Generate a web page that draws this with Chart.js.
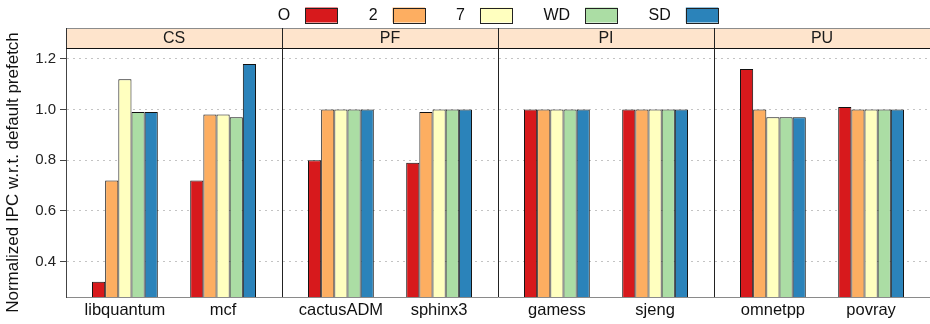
<!DOCTYPE html>
<html>
<head>
<meta charset="utf-8">
<script src="https://cdn.jsdelivr.net/npm/chart.js@4/dist/chart.umd.min.js"></script>
<style>
  html, body { margin: 0; padding: 0; background: #fff; }
  #wrap { width: 930px; height: 324px; }
</style>
</head>
<body>
<div id="wrap"><canvas id="c" width="930" height="324"></canvas></div>
<script>
// Benchmark groups and the benchmarks in each
const groups = ['CS', 'PF', 'PI', 'PU'];
const benchmarks = ['libquantum', 'mcf', 'cactusADM', 'sphinx3', 'gamess', 'sjeng', 'omnetpp', 'povray'];
const benchmarkGroup = [0, 0, 1, 1, 2, 2, 3, 3];

// Prefetcher configurations
const seriesNames = ['O', '2', '7', 'WD', 'SD'];
const seriesColors = ['#d7191c', '#fdae61', '#ffffbf', '#abdda4', '#2b83ba'];

// Normalized IPC per configuration
const valuesO  = [0.32, 0.72, 0.80, 0.79, 1.00, 1.00, 1.16, 1.01];
const values2  = [0.72, 0.98, 1.00, 0.99, 1.00, 1.00, 1.00, 1.00];
const values7  = [1.12, 0.98, 1.00, 1.00, 1.00, 1.00, 0.97, 1.00];
const valuesWD = [0.99, 0.97, 1.00, 1.00, 1.00, 1.00, 0.97, 1.00];
const valuesSD = [0.99, 1.18, 1.00, 1.00, 1.00, 1.00, 0.97, 1.00];

const yTicks = [0.4, 0.6, 0.8, 1.0, 1.2];

const FONT = "'Liberation Sans', Arial, Helvetica, sans-serif";

// Each facet spans 2.2 units: 0.6 padding, two slots 1 apart, 0.6 padding
const FACET_SPAN = 2.2;
const FACET_PAD = 0.6;
const groupCounters = {};
const xPositions = benchmarks.map((b, i) => {
  const g = benchmarkGroup[i];
  const k = groupCounters[g] || 0;
  groupCounters[g] = k + 1;
  return g * FACET_SPAN + FACET_PAD + k;
});

const seriesValues = [valuesO, values2, values7, valuesWD, valuesSD];
const datasets = seriesNames.map((name, s) => ({
  label: name,
  data: seriesValues[s].map((v, i) => ({ x: xPositions[i], y: v })),
  backgroundColor: seriesColors[s],
  borderColor: '#111',
  borderWidth: 1,
  borderSkipped: 'bottom',
  categoryPercentage: 0.67,
  barPercentage: 1.0
}));

// Draws facet strips, facet borders and the legend row
const facetPlugin = {
  id: 'facets',
  afterDraw(chart) {
    const ctx = chart.ctx;
    const area = chart.chartArea;
    const xs = chart.scales.x;
    const stripTop = 28, stripBottom = area.top;

    ctx.save();
    // strips
    groups.forEach((g, i) => {
      const x0 = xs.getPixelForValue(i * FACET_SPAN);
      const x1 = xs.getPixelForValue((i + 1) * FACET_SPAN);
      ctx.fillStyle = '#fee4cc';
      ctx.fillRect(x0, stripTop, x1 - x0, stripBottom - stripTop);
      ctx.fillStyle = '#1a1a1a';
      ctx.font = '16px ' + FONT;
      ctx.textAlign = 'center';
      ctx.textBaseline = 'middle';
      ctx.fillText(g, (x0 + x1) / 2, (stripTop + stripBottom) / 2 + 1);
    });
    // strip top edge
    ctx.strokeStyle = '#8c8c8c';
    ctx.lineWidth = 1;
    ctx.beginPath();
    ctx.moveTo(area.left, stripTop + 0.5);
    ctx.lineTo(area.right, stripTop + 0.5);
    ctx.stroke();
    // strip bottom edge
    ctx.strokeStyle = '#111';
    ctx.beginPath();
    ctx.moveTo(area.left, stripBottom + 0.5);
    ctx.lineTo(area.right, stripBottom + 0.5);
    ctx.stroke();
    // facet separators
    for (let i = 0; i < groups.length; i++) {
      const x = Math.round(xs.getPixelForValue(i * FACET_SPAN)) + 0.5;
      ctx.strokeStyle = i === 0 ? '#333' : '#222';
      ctx.beginPath();
      ctx.moveTo(x, stripTop);
      ctx.lineTo(x, i === 0 ? stripBottom : area.bottom);
      ctx.stroke();
    }

    // legend: label followed by its colour key
    ctx.font = '16px ' + FONT;
    ctx.textAlign = 'left';
    ctx.textBaseline = 'middle';
    const boxW = 32.5, boxH = 15, textGap = 15, itemGap = 31;
    const widths = seriesNames.map(n => ctx.measureText(n).width);
    const total = widths.reduce((a, w) => a + w + textGap + boxW, 0) + itemGap * (seriesNames.length - 1);
    let x = (area.left + area.right) / 2 - total / 2;
    const cy = 15;
    seriesNames.forEach((n, i) => {
      ctx.fillStyle = '#111';
      ctx.fillText(n, x, cy + 0.5);
      x += widths[i] + textGap;
      ctx.fillStyle = seriesColors[i];
      ctx.fillRect(x, cy - boxH / 2, boxW, boxH);
      ctx.strokeStyle = '#222';
      ctx.lineWidth = 1;
      ctx.strokeRect(Math.round(x) + 0.5, Math.round(cy - boxH / 2) + 0.5, Math.round(boxW) - 1, boxH);
      x += boxW + itemGap;
    });
    ctx.restore();
  }
};

new Chart(document.getElementById('c'), {
  type: 'bar',
  data: { datasets },
  plugins: [facetPlugin],
  options: {
    responsive: false,
    animation: false,
    devicePixelRatio: 1,
    layout: { padding: { top: 48, right: 0, bottom: 0, left: 0 } },
    plugins: { legend: { display: false }, tooltip: { enabled: false } },
    scales: {
      x: {
        type: 'linear',
        offset: false,
        min: 0,
        max: FACET_SPAN * groups.length,
        afterBuildTicks(scale) { scale.ticks = xPositions.map(v => ({ value: v })); },
        afterFit(scale) { scale.height = 27; },
        ticks: {
          autoSkip: false,
          maxRotation: 0,
          padding: 4,
          color: '#111',
          font: { family: FONT, size: 16.5 },
          callback: (v, i) => benchmarks[i]
        },
        grid: { display: false, drawTicks: false, tickLength: 0 },
        border: { display: true, color: '#8a8a8a', width: 1 }
      },
      y: {
        min: 0.26,
        max: 1.243,
        afterBuildTicks(scale) { scale.ticks = yTicks.map(v => ({ value: v })); },
        afterFit(scale) { scale.width = 66; },
        ticks: {
          padding: 4,
          color: '#222',
          font: { family: FONT, size: 15 },
          callback: v => v.toFixed(1)
        },
        grid: {
          color: '#c4c4c4',
          lineWidth: 1,
          tickLength: 6,
          tickColor: '#444',
          tickBorderDash: [],
          drawTicks: true
        },
        border: { display: true, color: '#444', width: 1, dash: [2, 4] },
        title: {
          display: true,
          text: 'Normalized IPC w.r.t. default prefetch',
          color: '#111',
          font: { family: FONT, size: 17 },
          padding: { top: 3, bottom: 0 }
        }
      }
    }
  }
});
</script>
</body>
</html>
